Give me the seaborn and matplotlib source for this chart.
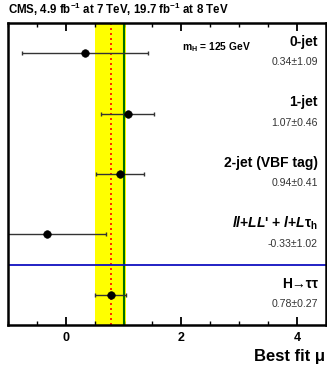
import matplotlib
matplotlib.use("Agg")
import matplotlib.pyplot as plt
import seaborn as sns
import pandas as pd
import numpy as np
from matplotlib.ticker import MultipleLocator

categories = ["0-jet", "1-jet", "2-jet (VBF tag)", r"$\it{ll}$+$\it{LL}$' + $\it{l}$+$\it{L}$τ$_\mathrm{h}$", "H→ττ"]
values = [0.34, 1.07, 0.94, -0.33, 0.78]
errors = [1.09, 0.46, 0.41, 1.02, 0.27]
value_labels = ["0.34±1.09", "1.07±0.46", "0.94±0.41", "-0.33±1.02", "0.78±0.27"]
ypos = [4.5, 3.5, 2.5, 1.5, 0.5]
combined = 0.78
combined_err = 0.27

sns.set_theme(style="ticks")
plt.rcParams['font.family'] = ['Liberation Sans', 'DejaVu Sans']
plt.rcParams['mathtext.fontset'] = 'custom'
plt.rcParams['mathtext.rm'] = 'Liberation Sans:bold'
plt.rcParams['mathtext.it'] = 'Liberation Sans:bold:italic'
plt.rcParams['mathtext.bf'] = 'Liberation Sans:bold'
plt.rcParams['text.color'] = 'black'
plt.rcParams['xtick.color'] = 'black'
plt.rcParams['xtick.labelcolor'] = 'black'
plt.rcParams['axes.labelcolor'] = 'black'

fig = plt.figure(figsize=(3.27, 3.69), dpi=100)
ax = fig.add_axes([0.0245, 0.119, 0.972, 0.819])

df = pd.DataFrame({"mu": values, "err": errors, "y": ypos})

ax.axvspan(combined - combined_err, combined + combined_err, color="#ffff00", zorder=0, lw=0)
ax.axvline(combined, color="red", ls=(0, (1.2, 1.8)), lw=1.2, zorder=1)
ax.axvline(1.0, color="#007000", lw=1.5, zorder=1)
ax.axhline(1.0, color="#1010c0", lw=1.3, zorder=1)

ax.errorbar(df["mu"], df["y"], xerr=df["err"], fmt="none", ecolor="#333333", elinewidth=1.0,
            capsize=1.5, capthick=1.0, zorder=2)
sns.scatterplot(data=df, x="mu", y="y", ax=ax, color="black", s=30, edgecolor="black", zorder=3, legend=False)

ax.set_xlim(-1.0, 4.5)
ax.set_ylim(0, 5)
ax.set_yticks([])
ax.set_ylabel("")
ax.set_xlabel("")
ax.xaxis.set_major_locator(MultipleLocator(2))
ax.xaxis.set_minor_locator(MultipleLocator(0.5))
ax.tick_params(axis="x", which="major", direction="in", length=6, width=1.3, top=True, labelsize=9, pad=5,
               colors="black")
ax.tick_params(axis="x", which="minor", direction="in", length=3, width=1.0, top=True, colors="black")
for lab in ax.get_xticklabels():
    lab.set_fontweight("bold")
for s in ax.spines.values():
    s.set_linewidth(1.8)
    s.set_color("black")
    s.set_visible(True)

for cat, vl, y in zip(categories, value_labels, ypos):
    ax.text(4.36, y + 0.12, cat, ha="right", va="baseline", fontsize=10, fontweight="bold",
            color="black", family=['Liberation Sans', 'DejaVu Sans'])
    ax.text(4.36, y - 0.2, vl, ha="right", va="baseline", fontsize=7.6, color="#333333")

ax.text(3.2, 4.55, r"m$_{\mathrm{H}}$ = 125 GeV", ha="right", va="baseline", fontsize=7.4,
        fontweight="bold", color="black")

fig.text(0.024, 0.962, r"CMS, 4.9 fb$^{-1}$ at 7 TeV, 19.7 fb$^{-1}$ at 8 TeV", ha="left", va="baseline",
         fontsize=8.3, fontweight="bold", color="black")
fig.text(0.994, 0.022, "Best fit μ", ha="right", va="baseline", fontsize=12, fontweight="bold", color="black")

fig.savefig("out.png", dpi=100)
